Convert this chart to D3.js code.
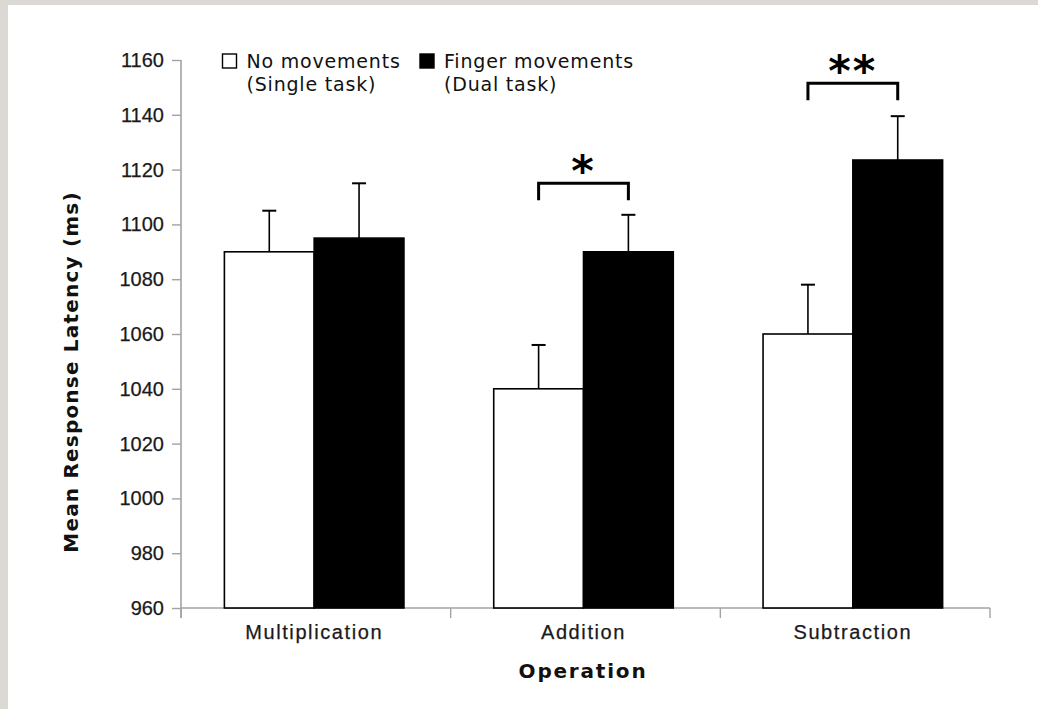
<!DOCTYPE html>
<html>
<head>
<meta charset="utf-8">
<script src="https://cdn.jsdelivr.net/npm/d3@7/dist/d3.min.js"></script>
<style>
  html, body { margin: 0; padding: 0; background: #dcd9d4; }
  svg { display: block; }
</style>
</head>
<body>
<svg id="chart" width="1038" height="709"></svg>
<script>
// ---- data ----
const categories = ["Multiplication", "Addition", "Subtraction"];
const seriesNames = ["No movements", "Finger movements"];
const seriesSub = ["(Single task)", "(Dual task)"];
const noMovements = [1090, 1040, 1060];
const fingerMovements = [1095, 1090, 1123.5];
const noMovementsErr = [15, 16, 18];
const fingerMovementsErr = [20, 13.5, 16];
const yTicks = [960, 980, 1000, 1020, 1040, 1060, 1080, 1100, 1120, 1140, 1160];
const sigCategories = ["Addition", "Subtraction"];
const sigLabels = ["*", "**"];
const sigLevels = [1115, 1151.5];

// ---- layout ----
const svg = d3.select("#chart");
svg.append("rect").attr("x", 8).attr("y", 5).attr("width", 1030).attr("height", 704).attr("fill", "#ffffff");

const mLeft = 181, mRight = 990, mTop = 60, mBottom = 608;
const y = d3.scaleLinear().domain([960, 1160]).range([mBottom, mTop]);
const x0 = d3.scaleBand().domain(categories).range([mLeft - 1.5, mRight - 2.5]).padding(0);
const x1 = d3.scaleBand().domain(seriesNames).range([0, x0.bandwidth()]).paddingInner(0).paddingOuter(0.5);

const rows = categories.map((c, i) => ({
  cat: c,
  vals: [
    { s: seriesNames[0], v: noMovements[i], e: noMovementsErr[i], fill: "#ffffff" },
    { s: seriesNames[1], v: fingerMovements[i], e: fingerMovementsErr[i], fill: "#000000" }
  ]
}));

// axes
const axisColor = "#a3a3a3";
const yAxis = svg.append("g").attr("transform", `translate(${mLeft},0)`)
  .call(d3.axisLeft(y).tickValues(yTicks).tickSize(9).tickPadding(8).tickFormat(d3.format("d")));
yAxis.select(".domain").attr("stroke", axisColor).attr("stroke-width", 1.6).attr("d", `M0,${mTop}V${mBottom + 10}`);
yAxis.selectAll(".tick line").attr("stroke", axisColor).attr("stroke-width", 1.4);
yAxis.selectAll(".tick text").attr("font-family", "Liberation Sans, Arial, sans-serif").attr("font-size", 20)
  .attr("fill", "#1a1a1a").attr("letter-spacing", 0).attr("stroke", "#1a1a1a").attr("stroke-width", 0.25);

const xg = svg.append("g");
xg.append("line").attr("x1", mLeft).attr("x2", mRight).attr("y1", mBottom).attr("y2", mBottom).attr("stroke", axisColor).attr("stroke-width", 1.6);
const xTickPos = d3.scaleLinear().domain([0, categories.length]).range([mLeft, mRight]);
xg.selectAll("line.tk").data(d3.range(categories.length + 1)).join("line").attr("class", "tk")
  .attr("x1", d => xTickPos(d)).attr("x2", d => xTickPos(d)).attr("y1", mBottom).attr("y2", mBottom + 10)
  .attr("stroke", axisColor).attr("stroke-width", 1.4);
xg.selectAll("text.cat").data(categories).join("text").attr("class", "cat")
  .attr("x", d => x0(d) + x0.bandwidth() / 2).attr("y", mBottom + 31)
  .attr("text-anchor", "middle").attr("font-family", "Liberation Sans, Arial, sans-serif")
  .attr("font-size", 20).attr("letter-spacing", 1.6).attr("fill", "#1a1a1a")
  .attr("stroke", "#1a1a1a").attr("stroke-width", 0.25).text(d => d);

// bars
const groups = svg.selectAll("g.grp").data(rows).join("g").attr("class", "grp")
  .attr("transform", d => `translate(${x0(d.cat)},0)`);
groups.selectAll("rect").data(d => d.vals).join("rect")
  .attr("x", d => x1(d.s)).attr("width", x1.bandwidth())
  .attr("y", d => y(d.v)).attr("height", d => y(960) - y(d.v))
  .attr("fill", d => d.fill).attr("stroke", "#000").attr("stroke-width", 1.6);

// error bars
const capW = 14;
groups.selectAll("line.err").data(d => d.vals).join("line").attr("class", "err")
  .attr("x1", d => x1(d.s) + x1.bandwidth() / 2).attr("x2", d => x1(d.s) + x1.bandwidth() / 2)
  .attr("y1", d => y(d.v)).attr("y2", d => y(d.v + d.e))
  .attr("stroke", "#000").attr("stroke-width", 1.6);
groups.selectAll("line.cap").data(d => d.vals).join("line").attr("class", "cap")
  .attr("x1", d => x1(d.s) + x1.bandwidth() / 2 - capW / 2).attr("x2", d => x1(d.s) + x1.bandwidth() / 2 + capW / 2)
  .attr("y1", d => y(d.v + d.e)).attr("y2", d => y(d.v + d.e))
  .attr("stroke", "#000").attr("stroke-width", 2);

// significance brackets
sigCategories.forEach((c, i) => {
  const xa = x0(c) + x1(seriesNames[0]) + x1.bandwidth() / 2;
  const xb = x0(c) + x1(seriesNames[1]) + x1.bandwidth() / 2;
  const yl = y(sigLevels[i]);
  svg.append("path").attr("d", `M${xa},${yl + 17}V${yl}H${xb}V${yl + 17}`)
    .attr("fill", "none").attr("stroke", "#000").attr("stroke-width", 3);
  svg.append("text").attr("x", (xa + xb) / 2).attr("y", yl + 3)
    .attr("text-anchor", "middle").attr("font-family", "DejaVu Sans, sans-serif").attr("font-weight", "bold")
    .attr("font-size", 43).attr("letter-spacing", 2).text(sigLabels[i]);
});

// legend
const legX = [222.5, 420];
const legFill = ["#ffffff", "#000000"];
seriesNames.forEach((s, i) => {
  svg.append("rect").attr("x", legX[i]).attr("y", 54).attr("width", 14).attr("height", 14)
    .attr("fill", legFill[i]).attr("stroke", "#000").attr("stroke-width", 1.4);
  const t = svg.append("text").attr("font-family", "DejaVu Sans, sans-serif").attr("font-size", 19)
    .attr("letter-spacing", 0.8).attr("fill", "#111");
  t.append("tspan").attr("x", legX[i] + 24).attr("y", 68).text(s);
  t.append("tspan").attr("x", legX[i] + 24).attr("y", 91).text(seriesSub[i]);
});

// axis titles
svg.append("text").attr("transform", "translate(78,372) rotate(-90)")
  .attr("text-anchor", "middle").attr("font-family", "DejaVu Sans, sans-serif").attr("font-weight", "bold")
  .attr("font-size", 20).attr("letter-spacing", 1.2).attr("fill", "#111").text("Mean Response Latency (ms)");
svg.append("text").attr("x", 583).attr("y", 678)
  .attr("text-anchor", "middle").attr("font-family", "DejaVu Sans, sans-serif").attr("font-weight", "bold")
  .attr("font-size", 20).attr("letter-spacing", 1.8).attr("fill", "#111").text("Operation");
</script>
</body>
</html>
